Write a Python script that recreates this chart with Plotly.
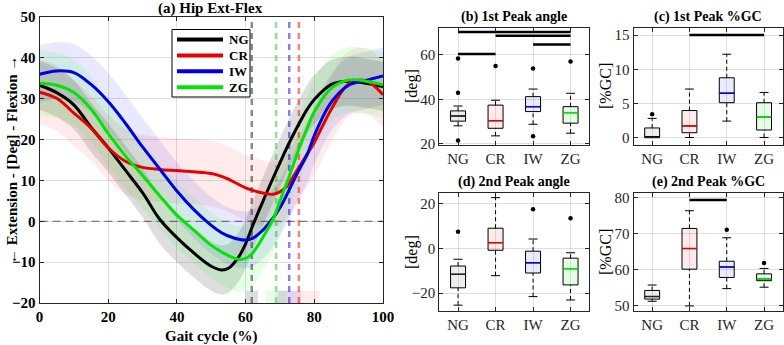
import plotly.graph_objects as go

# ---------------- data ----------------
groups = ["NG", "CR", "IW", "ZG"]
colors = ["#000000", "#e60000", "#0000e6", "#00e600"]
band_colors = ["rgba(0,0,0,0.13)", "rgba(255,0,0,0.08)", "rgba(0,0,255,0.09)", "rgba(0,255,0,0.10)"]
box_fills = ["rgba(0,0,0,0.07)", "rgba(255,0,0,0.08)", "rgba(0,0,255,0.08)", "rgba(0,255,0,0.10)"]
toe_line_colors = ["rgba(60,60,60,0.6)", "rgba(255,0,0,0.5)", "rgba(0,0,255,0.5)", "rgba(0,200,0,0.45)"]

gait = [0, 5, 10, 15, 20, 25, 30, 35, 40, 45, 50, 53, 55, 58, 60, 62, 65, 68, 70, 72, 75, 78, 80, 85, 90, 95, 100]
ng_mean = [33.3, 31.5, 28.5, 23, 18, 12.5, 7, 0.5, -4, -7.8, -11, -11.9, -11.5, -8.7, -5.5, -1.2, 4.8, 10.6, 14.3, 18, 23, 27.5, 29.8, 33.5, 34.3, 33.8, 33]
cr_mean = [31.6, 30.1, 26.5, 22.8, 18, 14.7, 13.2, 12.7, 12.4, 12.1, 11.7, 11, 10.3, 9, 8.2, 7.6, 6.9, 6.6, 7.2, 8.5, 12.5, 16.5, 19.3, 27.5, 33.6, 34.4, 31]
iw_mean = [36, 36.8, 36.4, 33.5, 29.3, 24, 18.2, 12.8, 7.4, 2.8, -1, -2.8, -3.6, -4.4, -4.6, -4.2, -2.2, 0.8, 3.3, 6.5, 11.7, 16.5, 21, 29.2, 33.3, 34.5, 35.6]
zg_mean = [33.8, 33.3, 31.5, 27.5, 21.5, 16, 11.2, 6.2, 1.5, -2.2, -5.9, -7.5, -8.4, -9.3, -9.1, -7.8, -4, 0.5, 5, 9.4, 16.5, 23, 26.8, 32.6, 34.6, 34.3, 33.4]
group_sd = [6.0, 8.0, 7.0, 8.0]

toe_off = [61.8, 75.5, 72.7, 68.9]      # NG, CR, IW, ZG
toe_off_sd = [1.8, 6.0, 3.5, 3.0]

# box stats: [lower whisker, q1, median, q3, upper whisker]
peak1_angle = [[28.1, 30.2, 32.5, 34.8, 37.0], [23.6, 27.0, 30.4, 37.4, 39.6],
               [28.8, 34.5, 36.7, 41.2, 44.6], [24.8, 29.3, 34.0, 36.7, 42.7]]
peak1_angle_out = [[58.3, 43.0, 21.5], [55.0], [53.8, 23.4], [57.0]]
peak1_gc = [[0, 0, 0, 1.4, 2.8], [0, 0.7, 1.7, 3.95, 7.1],
            [2.4, 5.1, 6.5, 8.75, 12.2], [0, 1.1, 3.0, 5.1, 6.6]]
peak1_gc_out = [[3.4], [], [], []]
peak2_angle = [[-25.3, -17.6, -11.6, -7.9, -4.9], [-12.2, -0.9, 2.5, 8.9, 22.5],
               [-21.5, -11.0, -6.5, -1.3, 4.1], [-23.0, -16.3, -9.1, -4.4, -2.0]]
peak2_angle_out = [[7.3], [], [17.3], [13.3]]
peak2_gc = [[51.3, 51.9, 52.6, 54.3, 55.8], [50.0, 60.2, 65.9, 71.5, 76.4],
            [54.8, 57.9, 60.8, 62.4, 68.9], [55.2, 57.0, 57.5, 58.9, 60.4]]
peak2_gc_out = [[], [], [71.1], [61.9]]

# significance bars: (from group index, to group index, level)
sig_b = [(1, 4, 70.2), (2, 4, 68.5), (3, 4, 64.6), (1, 2, 60.3)]
sig_c = [(2, 4, 15.0)]
sig_e = [(2, 3, 79.4)]

means = [ng_mean, cr_mean, iw_mean, zg_mean]

FONT = "Liberation Serif"
W, H = 784, 345


def px_x(p):
    return p / W


def px_y(p):
    return 1 - p / H


fig = go.Figure()

# ---------------- main plot ----------------
for i, g in enumerate(groups):
    up = [m + group_sd[i] for m in means[i]]
    lo = [m - group_sd[i] for m in means[i]]
    fig.add_trace(go.Scatter(x=gait, y=up, mode="lines", line=dict(width=0, shape="spline"),
                             showlegend=False, hoverinfo="skip"))
    fig.add_trace(go.Scatter(x=gait, y=lo, mode="lines", line=dict(width=0, shape="spline"),
                             fill="tonexty", fillcolor=band_colors[i], showlegend=False, hoverinfo="skip"))

# zero line
fig.add_trace(go.Scatter(x=[0, 100], y=[0, 0], mode="lines",
                         line=dict(color="rgba(60,60,60,0.8)", width=1, dash="8px,5px"),
                         showlegend=False, hoverinfo="skip"))

# toe-off sd rectangles and dashed lines
for i in range(4):
    a = toe_off[i] - toe_off_sd[i]
    b = toe_off[i] + toe_off_sd[i]
    fig.add_trace(go.Scatter(x=[a, b, b, a, a], y=[-20, -20, -17, -17, -20], mode="lines",
                             line=dict(width=0), fill="toself", fillcolor=band_colors[i],
                             showlegend=False, hoverinfo="skip"))
for i in range(4):
    fig.add_trace(go.Scatter(x=[toe_off[i], toe_off[i]], y=[-20, 50], mode="lines",
                             line=dict(color=toe_line_colors[i], width=2.5, dash="6px,5px"),
                             showlegend=False, hoverinfo="skip"))

for i, g in enumerate(groups):
    fig.add_trace(go.Scatter(x=gait, y=means[i], mode="lines", name=g, showlegend=False,
                             line=dict(color=colors[i], width=3, shape="spline")))

# ---------------- box plots ----------------
def add_boxes(ax, stats, outs, sigs):
    xa, ya = "x" + ax, "y" + ax
    for i, s in enumerate(stats):
        pos = i + 1
        lo, q1, med, q3, hi = s
        fig.add_trace(go.Box(x=[pos], q1=[q1], median=[med], q3=[q3], lowerfence=[q1], upperfence=[q3],
                             width=0.4, whiskerwidth=0, fillcolor=box_fills[i],
                             line=dict(color="black", width=1), xaxis=xa, yaxis=ya,
                             showlegend=False, hoverinfo="skip"))
        fig.add_trace(go.Scatter(x=[pos, pos, None, pos, pos], y=[lo, q1, None, q3, hi], mode="lines",
                                 line=dict(color="black", width=1, dash="4px,3px"),
                                 xaxis=xa, yaxis=ya, showlegend=False, hoverinfo="skip"))
        fig.add_trace(go.Scatter(x=[pos - 0.12, pos + 0.12, None, pos - 0.12, pos + 0.12],
                                 y=[lo, lo, None, hi, hi], mode="lines",
                                 line=dict(color="black", width=1),
                                 xaxis=xa, yaxis=ya, showlegend=False, hoverinfo="skip"))
        fig.add_trace(go.Scatter(x=[pos - 0.2, pos + 0.2], y=[med, med], mode="lines",
                                 line=dict(color=colors[i] if i else "#222222", width=1.5),
                                 xaxis=xa, yaxis=ya, showlegend=False, hoverinfo="skip"))
        if outs[i]:
            fig.add_trace(go.Scatter(x=[pos] * len(outs[i]), y=outs[i], mode="markers",
                                     marker=dict(color="black", size=4.5),
                                     xaxis=xa, yaxis=ya, showlegend=False, hoverinfo="skip"))
    for a, b, lvl in sigs:
        fig.add_trace(go.Scatter(x=[a, b], y=[lvl, lvl], mode="lines",
                                 line=dict(color="black", width=2.5),
                                 xaxis=xa, yaxis=ya, showlegend=False, hoverinfo="skip"))


add_boxes("2", peak1_angle, peak1_angle_out, sig_b)
add_boxes("3", peak1_gc, peak1_gc_out, sig_c)
add_boxes("4", peak2_angle, peak2_angle_out, [])
add_boxes("5", peak2_gc, peak2_gc_out, sig_e)

# ---------------- layout ----------------
grid = "rgba(0,0,0,0.12)"
frame = "#262626"

main_tick = dict(family=FONT, size=15, color="black", weight="bold")
box_tick = dict(family=FONT, size=15, color="#262626")

common_ax = dict(showline=True, linecolor=frame, linewidth=1, mirror="ticks", ticks="inside",
                 ticklen=4, tickcolor=frame, showgrid=True, gridcolor=grid, zeroline=False,
                 automargin=False)

layout = dict(
    width=W, height=H, margin=dict(l=0, r=0, t=0, b=0, autoexpand=False),
    paper_bgcolor="white", plot_bgcolor="white", showlegend=False,
    xaxis=dict(domain=[px_x(39.5), px_x(383)], range=[0, 100], tickvals=[0, 20, 40, 60, 80, 100],
               tickfont=main_tick, anchor="y", **common_ax),
    yaxis=dict(domain=[px_y(303), px_y(17)], range=[-20, 50], tickvals=list(range(-20, 51, 10)),
               tickfont=main_tick, anchor="x", **common_ax),
)

box_axes = {
    "2": ([439.3, 589.3], [28, 145], [19.5, 72], [20, 40, 60]),
    "3": ([633.5, 782.7], [28.3, 145], [-1.1, 16], [0, 5, 10, 15]),
    "4": ([439.3, 589.3], [192.7, 311], [-27.9, 24.7], [-20, 0, 20]),
    "5": ([633.5, 782.7], [192.7, 311], [48.6, 81.4], [50, 60, 70, 80]),
}
for k, (xd, yd, yr, yt) in box_axes.items():
    layout["xaxis" + k] = dict(domain=[px_x(xd[0]), px_x(xd[1])], range=[0.5, 4.5],
                               tickvals=[1, 2, 3, 4], ticktext=groups, tickfont=box_tick,
                               anchor="y" + k, **common_ax)
    layout["yaxis" + k] = dict(domain=[px_y(yd[1]), px_y(yd[0])], range=yr, tickvals=yt,
                               tickfont=box_tick, anchor="x" + k, **common_ax)

fig.update_layout(**layout)

ann = []
shapes = []


def text(t, x, y, size, bold=True, angle=0, xanchor="center"):
    ann.append(dict(text=("<b>%s</b>" % t) if bold else t, x=px_x(x), y=px_y(y), xref="paper", yref="paper",
                    showarrow=False, xanchor=xanchor, yanchor="middle", textangle=angle,
                    font=dict(family=FONT, size=size, color="black")))


text("(a) Hip Ext-Flex", 211, 8, 15)
text("Gait cycle (%)", 211, 336, 15)
text("← Extension - [Deg] - Flexion →", 12, 160, 15, angle=-90)
text("(b) 1st Peak angle", 514, 17, 14)
text("(c) 1st Peak %GC", 708, 17, 14)
text("(d) 2nd Peak angle", 514, 182, 14)
text("(e) 2nd Peak %GC", 708, 182, 14)
text("[deg]", 412, 86, 16, bold=False, angle=-90)
text("[%GC]", 605, 86, 16, bold=False, angle=-90)
text("[deg]", 412, 252, 16, bold=False, angle=-90)
text("[%GC]", 605, 252, 16, bold=False, angle=-90)

# legend (drawn as a box in the upper part of the main axes)
leg_x0, leg_y0, leg_x1, leg_y1 = 172, 29.5, 250, 97
shapes.append(dict(type="rect", xref="paper", yref="paper", x0=px_x(leg_x0), x1=px_x(leg_x1),
                   y0=px_y(leg_y1), y1=px_y(leg_y0), line=dict(color="black", width=1), fillcolor="white",
                   layer="above"))
for i, g in enumerate(groups):
    yy = 39.5 + i * 15.9
    shapes.append(dict(type="line", xref="paper", yref="paper", x0=px_x(177), x1=px_x(223),
                       y0=px_y(yy), y1=px_y(yy), line=dict(color=colors[i], width=4), layer="above"))
    text(g, 227, yy, 13, xanchor="left")

fig.update_layout(annotations=ann, shapes=shapes)

fig.write_html("out.html", config={"displayModeBar": False},
               post_script="document.body.style.margin='0';document.body.style.overflow='hidden';")
